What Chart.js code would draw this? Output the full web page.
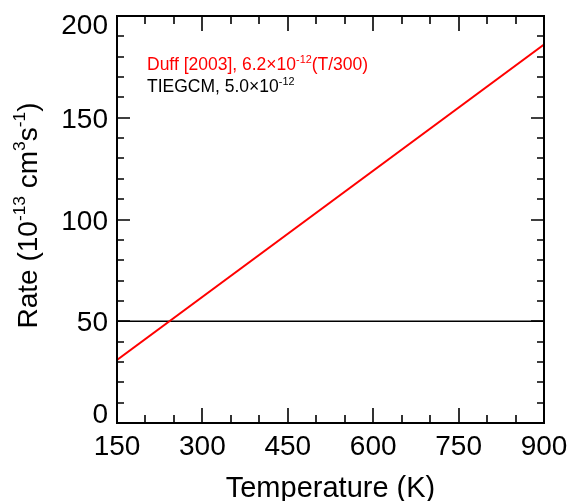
<!DOCTYPE html>
<html>
<head>
<meta charset="utf-8">
<script src="https://cdn.jsdelivr.net/npm/chart.js@4/dist/chart.umd.min.js"></script>
<style>
html,body{margin:0;padding:0;background:#fff;}
#wrap{width:571px;height:501px;}
</style>
</head>
<body>
<div id="wrap"><canvas id="c" width="571" height="501"></canvas></div>
<script>
// Data
const temperatures = [150, 900];          // K
const duffRate = [31, 186];               // 1e-13 cm^3 s^-1 : 62*(T/300)
const tiegcmRate = [50, 50];              // 1e-13 cm^3 s^-1
const xTickValues = [150, 300, 450, 600, 750, 900];
const yTickValues = [0, 50, 100, 150, 200];
const xMinorStep = 50;
const yMinorStep = 10;

const FONT = '"Liberation Sans", Arial, Helvetica, sans-serif';

function richWidth(ctx, parts, size) {
  let w = 0;
  for (const p of parts) {
    ctx.font = (p.sup ? size * 0.62 : size) + 'px ' + FONT;
    w += ctx.measureText(p.t).width;
  }
  return w;
}
function drawRich(ctx, parts, x, y, size, color) {
  let cx = x;
  ctx.fillStyle = color;
  ctx.textBaseline = 'alphabetic';
  ctx.textAlign = 'left';
  for (const p of parts) {
    const s = p.sup ? size * 0.62 : size;
    ctx.font = s + 'px ' + FONT;
    ctx.fillText(p.t, cx, p.sup ? y - size * 0.42 : y);
    cx += ctx.measureText(p.t).width;
  }
}

const axesPlugin = {
  id: 'idlAxes',
  afterDraw(chart) {
    const ctx = chart.ctx;
    const a = chart.chartArea;
    const xs = chart.scales.x, ys = chart.scales.y;
    ctx.save();
    ctx.strokeStyle = '#000';
    ctx.lineWidth = 2;
    ctx.strokeRect(a.left, a.top, a.right - a.left, a.bottom - a.top);
    ctx.lineWidth = 1.6;
    // x ticks
    for (let v = xs.min; v <= xs.max + 1e-9; v += xMinorStep) {
      const px = Math.round(xs.getPixelForValue(v));
      const major = xTickValues.includes(v);
      const len = major ? 15 : 8;
      ctx.beginPath();
      ctx.moveTo(px, a.bottom); ctx.lineTo(px, a.bottom - len);
      ctx.moveTo(px, a.top); ctx.lineTo(px, a.top + len);
      ctx.stroke();
    }
    // y ticks
    for (let v = ys.min; v <= ys.max + 1e-9; v += yMinorStep) {
      const py = Math.round(ys.getPixelForValue(v));
      const major = yTickValues.includes(v);
      const len = major ? 13 : 7;
      ctx.beginPath();
      ctx.moveTo(a.left, py); ctx.lineTo(a.left + len, py);
      ctx.moveTo(a.right, py); ctx.lineTo(a.right - len, py);
      ctx.stroke();
    }
    // tick labels
    ctx.fillStyle = '#000';
    ctx.font = '28px ' + FONT;
    ctx.textBaseline = 'alphabetic';
    ctx.textAlign = 'center';
    for (const v of xTickValues) {
      ctx.fillText(String(v), xs.getPixelForValue(v), 455);
    }
    ctx.textAlign = 'right';
    for (const v of yTickValues) {
      let cy = ys.getPixelForValue(v);
      cy = Math.max(a.top + 8, Math.min(a.bottom - 10, cy));
      ctx.fillText(String(v), 108, cy + 10);
    }
    // x title
    ctx.font = '29px ' + FONT;
    ctx.textAlign = 'center';
    ctx.fillText('Temperature (K)', (a.left + a.right) / 2, 497);
    // y title (rotated)
    const yParts = [{t:'Rate (10'},{t:'-13',sup:true},{t:' cm'},{t:'3',sup:true},{t:'s'},{t:'-1',sup:true},{t:')'}];
    const w = richWidth(ctx, yParts, 28);
    ctx.save();
    ctx.translate(37, (a.top + a.bottom) / 2 - 4);
    ctx.rotate(-Math.PI / 2);
    drawRich(ctx, yParts, -w / 2, 0, 28, '#000');
    ctx.restore();
    // legend text
    drawRich(ctx, [{t:'Duff [2003], 6.2\u00d710'},{t:'-12',sup:true},{t:'(T/300)'}], 147, 70, 17.5, '#ff0000');
    drawRich(ctx, [{t:'TIEGCM, 5.0\u00d710'},{t:'-12',sup:true}], 147, 92, 17.5, '#000000');
    ctx.restore();
  }
};

new Chart(document.getElementById('c'), {
  type: 'scatter',
  data: {
    datasets: [
      { label: 'Duff [2003]', data: temperatures.map((t, i) => ({x: t, y: duffRate[i]})),
        showLine: true, borderColor: '#ff0000', borderWidth: 2, pointRadius: 0, tension: 0 },
      { label: 'TIEGCM', data: temperatures.map((t, i) => ({x: t, y: tiegcmRate[i]})),
        showLine: true, borderColor: '#000000', borderWidth: 1.6, pointRadius: 0, tension: 0 }
    ]
  },
  options: {
    responsive: false,
    animation: false,
    devicePixelRatio: 1,
    layout: { padding: { left: 117, right: 27, top: 16, bottom: 78 } },
    plugins: { legend: { display: false }, tooltip: { enabled: false } },
    scales: {
      x: { type: 'linear', min: 150, max: 900, display: false },
      y: { type: 'linear', min: 0, max: 200, display: false }
    }
  },
  plugins: [axesPlugin]
});
</script>
</body>
</html>
